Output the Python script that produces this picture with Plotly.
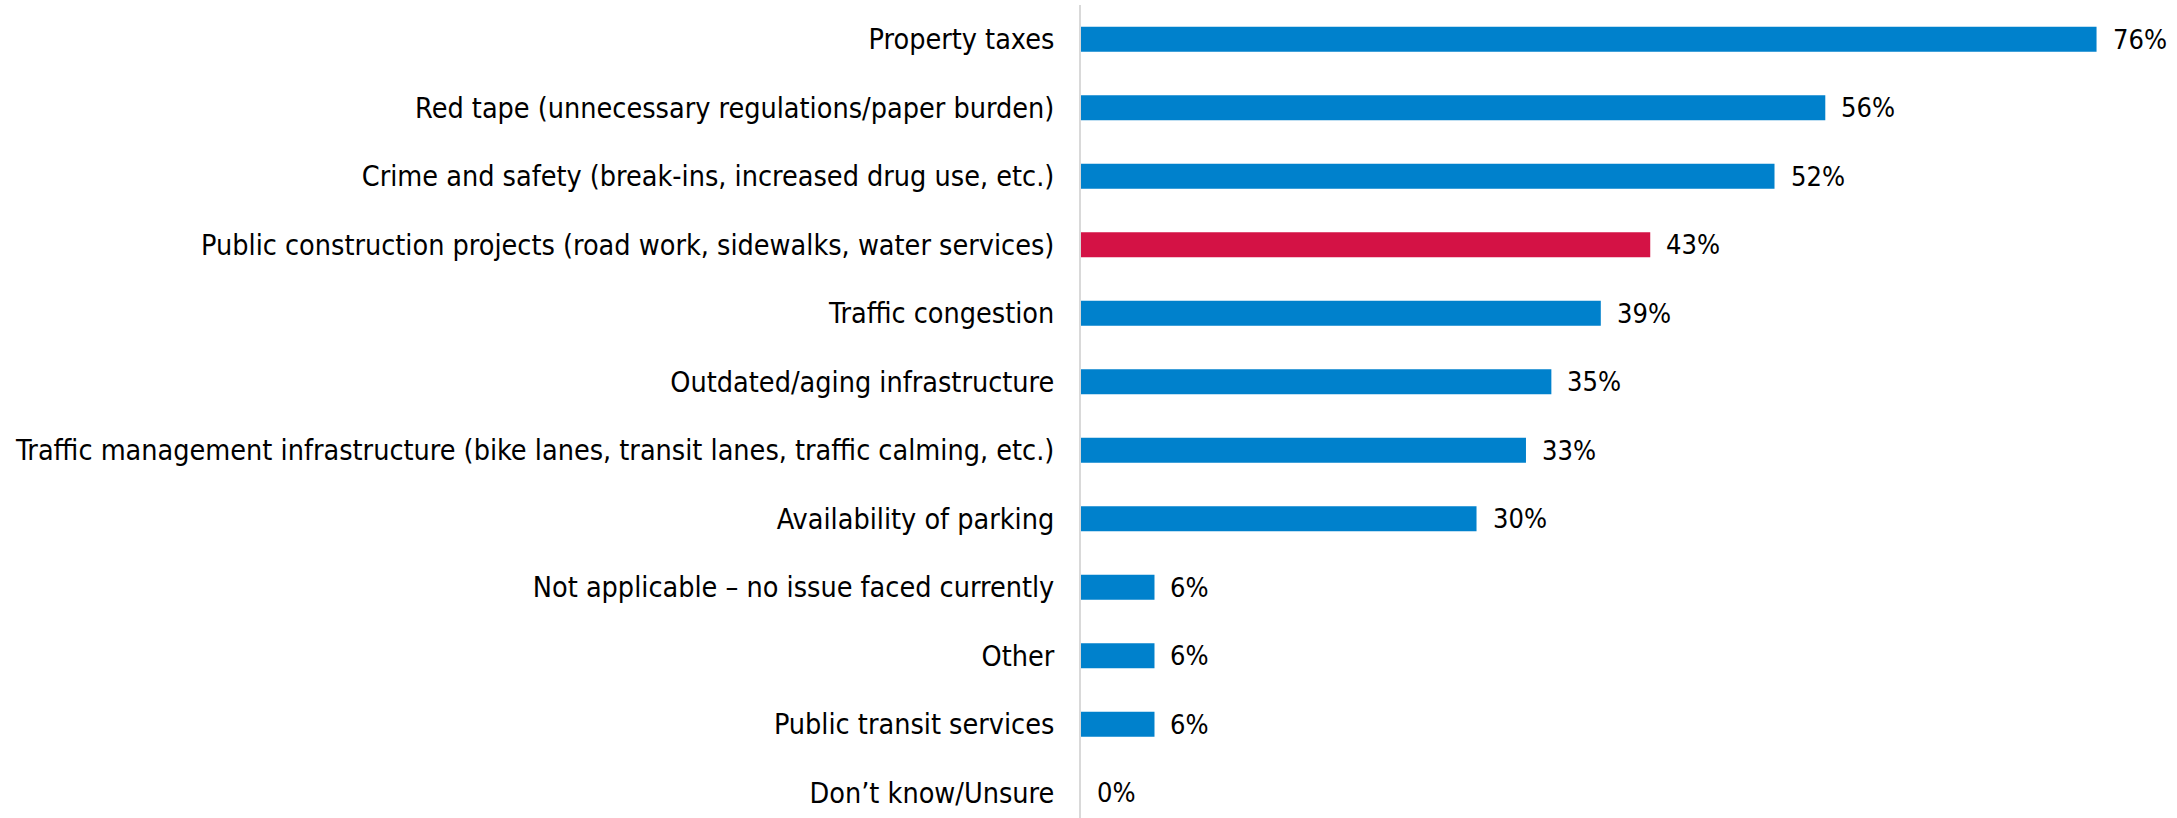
import plotly.graph_objects as go

categories = [
    "Property taxes",
    "Red tape (unnecessary regulations/paper burden)",
    "Crime and safety (break-ins, increased drug use, etc.)",
    "Public construction projects (road work, sidewalks, water services)",
    "Traffic congestion",
    "Outdated/aging infrastructure",
    "Traffic management infrastructure (bike lanes, transit lanes, traffic calming, etc.)",
    "Availability of parking",
    "Not applicable \u2013 no issue faced currently",
    "Other",
    "Public transit services",
    "Don\u2019t know/Unsure",
]
values = [76.0, 55.7, 51.9, 42.6, 38.9, 35.2, 33.3, 29.6, 5.5, 5.5, 5.5, 0.0]
labels = ["76%", "56%", "52%", "43%", "39%", "35%", "33%", "30%", "6%", "6%", "6%", "0%"]
highlight = "Public construction projects (road work, sidewalks, water services)"

BLUE = "#0081CC"
RED = "#D41245"
colors = [RED if c == highlight else BLUE for c in categories]

FONT = "DejaVu Sans Condensed"

fig = go.Figure()
fig.add_trace(go.Bar(
    x=values,
    y=categories,
    orientation="h",
    marker=dict(color=colors, line=dict(width=0)),
    width=0.365,
    hoverinfo="skip",
))

for c, v, t in zip(categories, values, labels):
    fig.add_annotation(
        x=v, y=c, text=t, showarrow=False,
        xanchor="left", yanchor="middle", xshift=14,
        font=dict(family=FONT, size=27, color="#000000"),
    )

fig.update_layout(
    width=2177, height=818,
    margin=dict(l=1081, r=27, t=5, b=0),
    paper_bgcolor="white",
    plot_bgcolor="white",
    showlegend=False,
    font=dict(family=FONT, size=28.5, color="#000000"),
    bargap=0.6,
)
fig.update_xaxes(
    range=[0, 80], showgrid=False, zeroline=False,
    showticklabels=False, showline=False, fixedrange=True,
)
fig.update_yaxes(
    type="category",
    categoryorder="array", categoryarray=categories,
    range=[11.37, -0.5],
    showgrid=False, zeroline=False,
    showline=True, linecolor="#D9D9D9", linewidth=2,
    ticks="", ticklabelstandoff=19,
    tickfont=dict(family=FONT, size=28.5, color="#000000"),
)

fig.write_html("out.html")
